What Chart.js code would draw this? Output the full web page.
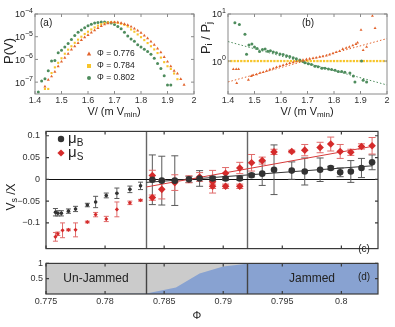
<!DOCTYPE html>
<html>
<head>
<meta charset="utf-8">
<script src="https://cdn.jsdelivr.net/npm/chart.js@4/dist/chart.umd.min.js"></script>
<style>
  html, body { margin: 0; padding: 0; background: #fff; }
  #fig { position: relative; width: 395px; height: 327px; overflow: hidden; background: #fff; }
  #fig canvas { position: absolute; }
</style>
</head>
<body>
<div id="fig">
  <canvas id="cA" width="200" height="125" style="left:0;top:0"></canvas>
  <canvas id="cB" width="199" height="125" style="left:196px;top:0"></canvas>
  <canvas id="cC" width="395" height="140" style="left:0;top:120px"></canvas>
  <canvas id="cD" width="395" height="72" style="left:0;top:255px"></canvas>
</div>
<script>
// ============================================================
// Panels (a)-(d): P(V), ratios, mu_B / mu_S vs phi, jammed fraction
// ============================================================

const FONT = 'Arial, "Liberation Sans", Helvetica, sans-serif';

// ── (a) distributions, log10 P(V) ───────────────────────────
const vGrid = [1.4125, 1.425, 1.4375, 1.45, 1.4625, 1.475, 1.4875, 1.5, 1.5125, 1.525,
  1.5375, 1.55, 1.5625, 1.575, 1.5875, 1.6, 1.6125, 1.625, 1.6375, 1.65,
  1.6625, 1.675, 1.6875, 1.7, 1.7125, 1.725, 1.7375, 1.75, 1.7625, 1.775,
  1.7875, 1.8, 1.8125, 1.825, 1.8375, 1.85, 1.8625, 1.875, 1.8875, 1.9,
  1.9125, 1.925, 1.9375, 1.95, 1.9625];
const logP776 = [null, null, -7.2, -6.9, -6.75, -6.55, -6.3, -6.1, -5.93, -5.75,
  -5.57, -5.42, -5.28, -5.15, -5.03, -4.93, -4.82, -4.72, -4.62, -4.53,
  -4.46, -4.41, -4.37, -4.36, -4.37, -4.40, -4.44, -4.49, -4.56, -4.64,
  -4.73, -4.83, -4.95, -5.07, -5.21, -5.36, -5.52, -5.69, -5.9, -6.1,
  -6.3, -6.5, -6.62, -6.87, -7.12];
const logP784 = [null, null, -7.3, -7.3, -6.6, -6.35, -6.15, -5.95, -5.75, -5.57,
  -5.42, -5.27, -5.13, -5.0, -4.88, -4.78, -4.68, -4.59, -4.51, -4.45,
  -4.40, -4.37, -4.36, -4.37, -4.39, -4.43, -4.48, -4.55, -4.68, -4.78,
  -4.9, -5.02, -5.15, -5.28, -5.42, -5.56, -5.72, -5.92, -6.12, -6.3,
  -6.42, -6.62, -6.87, null, null];
const logP802 = [-7.43, -6.95, -6.85, -6.5, -6.07, -6.05, -5.71, -5.6, -5.45, -5.3,
  -5.12, -4.95, -4.8, -4.7, -4.6, -4.52, -4.45, -4.40, -4.37, -4.35,
  -4.35, -4.37, -4.40, -4.46, -4.55, -4.65, -4.8, -4.97, -5.1, -5.2,
  -5.35, -5.45, -5.55, -5.65, -5.77, -5.95, -6.18, -6.4, -6.72, -7.13,
  -7.13, null, null, null, null];
const vTicks   = [1.4, 1.5, 1.6, 1.7, 1.8, 1.9, 2];
const aDecades = [1e-4, 1e-5, 1e-6, 1e-7];
const aExps    = ['\u22124', '\u22125', '\u22126', '\u22127'];
const phiNames = ['\u03A6 = 0.776', '\u03A6 = 0.784', '\u03A6 = 0.802'];

// ── (b) ratios P_i / P_j ─────────────────────────────────────
const vR776 = [1.420, 1.431, 1.440, 1.433, 1.477, 1.488, 1.495, 1.508, 1.521, 1.533,
  1.546, 1.558, 1.571, 1.583, 1.596, 1.608, 1.621, 1.633, 1.646, 1.658,
  1.671, 1.683, 1.696, 1.708, 1.721, 1.733, 1.746, 1.758, 1.771, 1.783,
  1.796, 1.808, 1.821, 1.833, 1.846, 1.858, 1.871, 1.883, 1.889, 1.902,
  1.910, 1.923, 1.945, 1.955];
const r776 = [0.67, 0.67, 0.67, 0.34, 0.40, 0.48, 0.50, 0.52, 0.56, 0.58,
  0.62, 0.66, 0.70, 0.74, 0.78, 0.82, 0.86, 0.90, 0.94, 0.98,
  1.02, 1.06, 1.09, 1.12, 1.15, 1.18, 1.22, 1.26, 1.30, 1.36,
  1.45, 1.55, 1.62, 1.80, 1.90, 2.00, 2.15, 2.30, 2.45, 4.6,
  1.7, 2.0, 9.1, 5.0];
const vR802 = [1.426, 1.443, 1.464, 1.470, 1.479, 1.490, 1.500, 1.510, 1.519, 1.530,
  1.540, 1.550, 1.560, 1.571, 1.583, 1.596, 1.608, 1.621, 1.633, 1.646,
  1.658, 1.671, 1.683, 1.690, 1.703, 1.715, 1.728, 1.740, 1.754, 1.766,
  1.779, 1.791, 1.804, 1.816, 1.829, 1.841, 1.860, 1.873, 1.879, 1.904,
  1.910, 1.923];
const r802 = [6.5, 6.0, 3.7, 1.39, 2.2, 2.3, 2.0, 1.85, 1.6, 1.75,
  1.8, 1.62, 1.65, 1.55, 1.5, 1.42, 1.38, 1.3, 1.25, 1.18,
  1.12, 1.05, 0.98, 0.92, 0.88, 0.84, 0.78, 0.76, 0.70, 0.70,
  0.68, 0.66, 0.64, 0.60, 0.60, 0.58, 0.56, 0.48, 0.36, 1.0,
  0.39, 0.36];
const vR784 = [1.4, 1.4125, 1.425, 1.4375, 1.45, 1.4625, 1.475, 1.4875, 1.5, 1.5125,
  1.525, 1.5375, 1.55, 1.5625, 1.575, 1.5875, 1.6, 1.6125, 1.625, 1.6375,
  1.65, 1.6625, 1.675, 1.6875, 1.7, 1.7125, 1.725, 1.7375, 1.75, 1.7625,
  1.775, 1.7875, 1.8, 1.8125, 1.825, 1.8375, 1.85, 1.8625, 1.875, 1.8875,
  1.9, 1.9125, 1.925, 1.9375, 1.95, 1.9625, 1.975, 1.9875, 2.0];
const r784 = [1, 1, 1, 1, 1, 1, 1, 1, 1, 1,
  1, 1, 1, 1, 1, 1, 1, 1, 1, 1,
  1, 1, 1, 1, 1, 1, 1, 1, 1, 1,
  1, 1, 1, 1, 1, 1, 1, 1, 1, 1,
  1, 1, 1, 1, 1, 1, 1, 1, 1];
const vFit   = [1.4, 2.0];
const fit776 = [0.36, 3.0];
const fit802 = [2.6, 0.31];
const bDecades = [10, 1];
const bExps    = ['1', '0'];

// ── (c) mu_B and mu_S vs phi ────────────────────────────────
const phiB = [0.7758, 0.7760, 0.7763, 0.7769, 0.7775, 0.7785, 0.7792, 0.7801, 0.7810, 0.7821,
  0.7830, 0.7840, 0.7848, 0.7859, 0.7871, 0.7880, 0.7891, 0.7902, 0.7914, 0.7924,
  0.7933, 0.7943, 0.7958, 0.7969, 0.7982, 0.7991, 0.7999, 0.8008, 0.8017, 0.8026];
const muB = [-0.0755, -0.078, -0.078, -0.073, -0.068, -0.059, -0.052, -0.037, -0.032, -0.023,
  -0.015, -0.001, -0.003, -0.003, 0.000, 0.002, 0.002, 0.002, 0.002, 0.0095,
  0.013, 0.022, 0.020, 0.018, 0.022, 0.026, 0.016, 0.018, 0.026, 0.039];
const errB = [0.0085, 0.006, 0.006, 0.005, 0.006, 0.004, 0.013, 0.0055, 0.012, 0.0075,
  0.0085, 0.057, 0.056, 0.057, 0.007, 0.018, 0.005, 0.004, 0.004, 0.004,
  0.027, 0.057, 0.020, 0.031, 0.027, 0.004, 0.010, 0.025, 0.022, 0.017];

const phiS = [0.7758, 0.7760, 0.7764, 0.7769, 0.7775, 0.7785, 0.7792, 0.7801, 0.7810, 0.7821,
  0.7830, 0.7840, 0.7840, 0.7848, 0.7859, 0.7871, 0.7880, 0.7891, 0.7891, 0.7902,
  0.7902, 0.7914, 0.7914, 0.7924, 0.7933, 0.7943, 0.7958, 0.7969, 0.7982, 0.7991,
  0.7999, 0.8008, 0.8017, 0.8026];
const muS = [-0.132, -0.125, -0.117, -0.116, -0.116, -0.098, -0.081, -0.091, -0.069, -0.054,
  -0.048, 0.0088, -0.042, -0.023, -0.0075, 0.000, 0.0054, -0.0055, -0.016, 0.014,
  -0.016, 0.026, -0.016, 0.038, 0.043, 0.063, 0.064, 0.067, 0.073, 0.081,
  0.064, 0.062, 0.0755, 0.077];
const errS = [0.010, 0.004, 0.017, 0.002, 0.016, 0.002, 0.005, 0.006, 0.017, 0.004,
  0.002, 0.012, 0.006, 0.022, 0.018, 0.008, 0.010, 0.026, 0.005, 0.013,
  0.005, 0.013, 0.005, 0.019, 0.008, 0.006, 0.003, 0.013, 0.012, 0.016,
  0.016, 0.007, 0.006, 0.019];

const phiFit = [0.7835, 0.8026];
const fitB   = [-0.007, 0.031];
const fitS   = [-0.0175, 0.0755];
const cTicks = [-0.1, -0.05, 0, 0.05, 0.1];

// ── (d) jammed fraction ─────────────────────────────────────
const jamPhi  = [0.775, 0.7835, 0.786, 0.788, 0.790, 0.792, 0.8031];
const jamFrac = [0, 0.02, 0.21, 0.67, 0.90, 0.99, 1.0];
const dTicks  = [0.5, 1];
const phiTicks  = [0.775, 0.78, 0.785, 0.79, 0.795, 0.8];
const phiBounds = [0.7835, 0.792];

// ── helpers ─────────────────────────────────────────────────
const pts  = (xs, ys) => xs.map((x, i) => ({ x, y: ys[i] }));
const pow10 = arr => arr.map(e => e === null ? null : Math.pow(10, e));
const setTicks = list => s => { s.ticks = list.map(v => ({ value: v })); };
const minus = v => v === 0 ? '0' : (v < 0 ? '\u2212' : '') + String(Math.abs(v));

// text with sub/superscripts: parts = [{text, size, dy}]
function drawRich(ctx, x, y, parts, align, rot, color) {
  ctx.save();
  ctx.translate(x, y);
  if (rot) ctx.rotate(rot);
  ctx.fillStyle = color || '#222';
  ctx.textBaseline = 'middle';
  ctx.textAlign = 'left';
  let w = 0;
  parts.forEach(p => { ctx.font = p.size + 'px ' + FONT; p.w = ctx.measureText(p.text).width; w += p.w; });
  let cx = align === 'center' ? -w / 2 : align === 'right' ? -w : 0;
  parts.forEach(p => {
    ctx.font = p.size + 'px ' + FONT;
    ctx.fillText(p.text, cx, p.dy || 0);
    cx += p.w;
  });
  ctx.restore();
}

function marker(ctx, style, x, y, r, color) {
  ctx.save();
  ctx.fillStyle = color;
  ctx.beginPath();
  if (style === 'circle') ctx.arc(x, y, r, 0, Math.PI * 2);
  else if (style === 'rect') ctx.rect(x - r, y - r, 2 * r, 2 * r);
  else if (style === 'triangle') { ctx.moveTo(x, y - r * 1.2); ctx.lineTo(x + r * 1.1, y + r * 0.8); ctx.lineTo(x - r * 1.1, y + r * 0.8); ctx.closePath(); }
  else if (style === 'rectRot') { ctx.moveTo(x, y - r); ctx.lineTo(x + r, y); ctx.lineTo(x, y + r); ctx.lineTo(x - r, y); ctx.closePath(); }
  ctx.fill();
  ctx.restore();
}

// box round the chart area with small inward ticks
const frame = {
  id: 'frame',
  afterDatasetsDraw(chart, args, o) {
    const { ctx, chartArea: a, scales: { x, y } } = chart;
    const t = o.tick || 3;
    ctx.save();
    ctx.strokeStyle = o.color;
    ctx.lineWidth = o.width;
    ctx.beginPath();
    x.ticks.forEach(tk => {
      const px = x.getPixelForValue(tk.value);
      ctx.moveTo(px, a.bottom); ctx.lineTo(px, a.bottom - t);
      ctx.moveTo(px, a.top);    ctx.lineTo(px, a.top + t);
    });
    y.ticks.forEach(tk => {
      const py = y.getPixelForValue(tk.value);
      ctx.moveTo(a.left, py);  ctx.lineTo(a.left + t, py);
      ctx.moveTo(a.right, py); ctx.lineTo(a.right - t, py);
    });
    ctx.stroke();
    ctx.strokeRect(a.left, a.top, a.right - a.left, a.bottom - a.top);
    ctx.restore();
  }
};

const errorBars = {
  id: 'errorBars',
  beforeDatasetsDraw(chart) {
    const { ctx, scales: { x, y } } = chart;
    chart.data.datasets.forEach(ds => {
      if (!ds.errors) return;
      ctx.save();
      ctx.strokeStyle = ds.errorColor;
      ctx.lineWidth = 1;
      ctx.beginPath();
      ds.data.forEach((p, i) => {
        const e = ds.errors[i];
        const px = x.getPixelForValue(p.x);
        const y1 = y.getPixelForValue(p.y - e);
        const y2 = y.getPixelForValue(p.y + e);
        const cap = p.x < phiBounds[0] ? 2.5 : 3.5;
        ctx.moveTo(px, y1); ctx.lineTo(px, y2);
        ctx.moveTo(px - cap, y1); ctx.lineTo(px + cap, y1);
        ctx.moveTo(px - cap, y2); ctx.lineTo(px + cap, y2);
      });
      ctx.stroke();
      ctx.restore();
    });
  }
};

function boundaryLines(chart, color, width) {
  const { ctx, chartArea: a, scales: { x } } = chart;
  ctx.save();
  ctx.strokeStyle = color;
  ctx.lineWidth = width;
  ctx.beginPath();
  phiBounds.forEach(v => {
    const px = Math.round(x.getPixelForValue(v)) + 0.5;
    ctx.moveTo(px, a.top); ctx.lineTo(px, a.bottom);
  });
  ctx.stroke();
  ctx.restore();
}

Chart.defaults.font.family = FONT;
Chart.defaults.color = '#333';
Chart.defaults.animation = false;
Chart.defaults.plugins.legend.display = false;
Chart.defaults.plugins.tooltip.enabled = false;

const noGrid = { display: false, drawTicks: false };
const noBorder = { display: false };

const COL_776 = '#e2632c';
const COL_784 = '#f7c52b';
const COL_802 = '#4e8c5d';

// ── Panel (a) ────────────────────────────────────────────────
new Chart(document.getElementById('cA'), {
  type: 'scatter',
  data: {
    datasets: [
      { data: pts(vGrid, pow10(logP776)), pointStyle: 'triangle', pointRadius: 1.8, backgroundColor: COL_776, borderWidth: 0 },
      { data: pts(vGrid, pow10(logP784)), pointStyle: 'rect', pointRadius: 1.5, backgroundColor: COL_784, borderWidth: 0 },
      { data: pts(vGrid, pow10(logP802)), pointStyle: 'circle', pointRadius: 1.5, backgroundColor: COL_802, borderWidth: 0 }
    ]
  },
  options: {
    responsive: false,
    layout: { padding: { top: 14, right: 6, left: 0, bottom: 0 } },
    scales: {
      x: {
        type: 'linear', min: 1.4, max: 2,
        afterBuildTicks: setTicks(vTicks), afterFit: s => { s.height = 31; },
        grid: noGrid, border: noBorder,
        ticks: { font: { size: 9 }, padding: 1, autoSkip: false, maxRotation: 0, callback: v => String(v) }
      },
      y: {
        type: 'logarithmic', min: Math.pow(10, -7.48), max: 1e-4,
        afterBuildTicks: setTicks(aDecades), afterFit: s => { s.width = 35; },
        grid: noGrid, border: noBorder, ticks: { display: false }
      }
    },
    plugins: { frame: { color: '#8a8a8a', width: 1 } }
  },
  plugins: [frame, {
    id: 'labelsA',
    afterDraw(chart) {
      const { ctx, scales: { y } } = chart;
      aDecades.forEach((d, i) => {
        drawRich(ctx, 33, y.getPixelForValue(d) + 1,
          [{ text: '10', size: 9 }, { text: aExps[i], size: 7, dy: -4 }], 'right');
      });
      drawRich(ctx, 9, 51, [{ text: 'P(V)', size: 13 }], 'center', -Math.PI / 2);
      drawRich(ctx, 114, 112, [{ text: 'V/ (m V', size: 11 }, { text: 'min', size: 8, dy: 3 }, { text: ')', size: 11 }], 'center');
      drawRich(ctx, 40, 23, [{ text: '(a)', size: 10 }], 'left');
      const styles = ['triangle', 'rect', 'circle'];
      const cols = [COL_776, COL_784, COL_802];
      [54, 66, 78].forEach((py, i) => {
        marker(ctx, styles[i], 89, py, 2, cols[i]);
        drawRich(ctx, 97, py, [{ text: phiNames[i], size: 8.5 }], 'left');
      });
    }
  }]
});

// ── Panel (b) ────────────────────────────────────────────────
new Chart(document.getElementById('cB'), {
  type: 'scatter',
  data: {
    datasets: [
      { type: 'line', data: pts(vFit, fit776), borderColor: COL_776, borderWidth: 1, borderDash: [1.5, 2], pointRadius: 0 },
      { type: 'line', data: pts(vFit, fit802), borderColor: COL_802, borderWidth: 1, borderDash: [1.5, 2], pointRadius: 0 },
      { data: pts(vR776, r776), pointStyle: 'triangle', pointRadius: 1.7, backgroundColor: COL_776, borderWidth: 0 },
      { data: pts(vR802, r802), pointStyle: 'circle', pointRadius: 1.5, backgroundColor: COL_802, borderWidth: 0 },
      { data: pts(vR784, r784), pointStyle: 'rect', pointRadius: 1.6, backgroundColor: COL_784, borderWidth: 0 }
    ]
  },
  options: {
    responsive: false,
    layout: { padding: { top: 14, right: 8, left: 0, bottom: 0 } },
    scales: {
      x: {
        type: 'linear', min: 1.4, max: 2,
        afterBuildTicks: setTicks(vTicks), afterFit: s => { s.height = 31; },
        grid: noGrid, border: noBorder,
        ticks: { font: { size: 9 }, padding: 1, autoSkip: false, maxRotation: 0, callback: v => String(v) }
      },
      y: {
        type: 'logarithmic', min: Math.pow(10, -0.70), max: 10,
        afterBuildTicks: setTicks(bDecades), afterFit: s => { s.width = 32; },
        grid: noGrid, border: noBorder, ticks: { display: false }
      }
    },
    plugins: { frame: { color: '#8a8a8a', width: 1 } }
  },
  plugins: [frame, {
    id: 'labelsB',
    afterDraw(chart) {
      const { ctx, scales: { y } } = chart;
      bDecades.forEach((d, i) => {
        drawRich(ctx, 30, y.getPixelForValue(d) + 1,
          [{ text: '10', size: 9 }, { text: bExps[i], size: 7, dy: -4 }], 'right');
      });
      drawRich(ctx, 10, 38, [{ text: 'P', size: 13 }, { text: 'i', size: 9, dy: 4 }, { text: ' / P', size: 13 }, { text: 'j', size: 9, dy: 4 }], 'center', -Math.PI / 2);
      drawRich(ctx, 111, 112, [{ text: 'V/ (m V', size: 11 }, { text: 'min', size: 8, dy: 3 }, { text: ')', size: 11 }], 'center');
      drawRich(ctx, 112, 23, [{ text: '(b)', size: 10 }], 'center');
    }
  }]
});

// ── Panel (c) ────────────────────────────────────────────────
const bigOrSmall = big => ctx => (ctx.raw && ctx.raw.x < phiBounds[0]) ? big * 0.55 : big;

new Chart(document.getElementById('cC'), {
  type: 'scatter',
  data: {
    datasets: [
      { data: pts(phiB, muB), errors: errB, errorColor: '#5a5a5a', pointStyle: 'circle',
        pointRadius: bigOrSmall(3.3), backgroundColor: '#333', borderWidth: 0 },
      { data: pts(phiS, muS), errors: errS, errorColor: '#e06a6a', pointStyle: 'rectRot',
        pointRadius: bigOrSmall(3.8), backgroundColor: '#d52b2b', borderWidth: 0 },
      { type: 'line', data: pts(phiFit, fitS), borderColor: '#d63a3a', borderWidth: 1, pointRadius: 0 },
      { type: 'line', data: pts(phiFit, fitB), borderColor: '#333', borderWidth: 1, pointRadius: 0 }
    ]
  },
  options: {
    responsive: false,
    layout: { padding: { top: 8, right: 17, left: 0, bottom: 0 } },
    scales: {
      x: {
        type: 'linear', min: 0.775, max: 0.8031,
        afterBuildTicks: setTicks(phiTicks), afterFit: s => { s.height = 0; },
        grid: noGrid, border: noBorder, ticks: { display: false }
      },
      y: {
        type: 'linear', min: -0.159, max: 0.11,
        afterBuildTicks: setTicks(cTicks), afterFit: s => { s.width = 46; },
        grid: noGrid, border: noBorder,
        ticks: { font: { size: 9 }, padding: 6, callback: v => minus(v) }
      }
    },
    plugins: { frame: { color: '#3a3a3a', width: 1.2 } }
  },
  plugins: [{
    id: 'backC',
    beforeDatasetsDraw(chart) {
      const { ctx, chartArea: a, scales: { y } } = chart;
      boundaryLines(chart, '#666', 1.4);
      const py = Math.round(y.getPixelForValue(0)) + 0.5;
      ctx.save();
      ctx.strokeStyle = '#111';
      ctx.lineWidth = 1.2;
      ctx.beginPath(); ctx.moveTo(a.left, py); ctx.lineTo(a.right, py); ctx.stroke();
      ctx.restore();
    }
  }, errorBars, frame, {
    id: 'labelsC',
    afterDraw(chart) {
      const { ctx } = chart;
      marker(ctx, 'circle', 61, 19, 3.2, '#333');
      drawRich(ctx, 68, 19, [{ text: '\u03BC', size: 15 }, { text: 'B', size: 10, dy: 4 }], 'left');
      marker(ctx, 'rectRot', 61, 33, 3.6, '#d52b2b');
      drawRich(ctx, 68, 33, [{ text: '\u03BC', size: 15 }, { text: 'S', size: 10, dy: 4 }], 'left');
      drawRich(ctx, 12, 77, [{ text: 'V', size: 12 }, { text: 's', size: 9, dy: 3 }, { text: ' /X', size: 12 }], 'center', -Math.PI / 2);
      drawRich(ctx, 364, 129, [{ text: '(c)', size: 10 }], 'center');
    }
  }]
});

// ── Panel (d) ────────────────────────────────────────────────
new Chart(document.getElementById('cD'), {
  type: 'scatter',
  data: {
    datasets: [
      { type: 'line', data: pts(jamPhi, jamFrac), borderWidth: 0, pointRadius: 0,
        fill: 'origin', backgroundColor: '#88a2d1', borderColor: 'rgba(0,0,0,0)' }
    ]
  },
  options: {
    responsive: false,
    layout: { padding: { top: 5, right: 17, left: 0, bottom: 0 } },
    scales: {
      x: {
        type: 'linear', min: 0.775, max: 0.8031,
        afterBuildTicks: setTicks(phiTicks), afterFit: s => { s.height = 33; },
        grid: noGrid, border: noBorder,
        ticks: { font: { size: 9 }, padding: 2, autoSkip: false, maxRotation: 0, callback: v => String(v) }
      },
      y: {
        type: 'linear', min: 0, max: 1,
        afterBuildTicks: setTicks(dTicks), afterFit: s => { s.width = 46; },
        grid: noGrid, border: noBorder,
        ticks: { font: { size: 9 }, padding: 3, callback: v => String(v) }
      }
    },
    plugins: { frame: { color: '#3a3a3a', width: 1.2 } }
  },
  plugins: [{
    id: 'backD',
    beforeDatasetsDraw(chart) {
      const { ctx, chartArea: a } = chart;
      ctx.save();
      ctx.fillStyle = '#cbcbcb';
      ctx.fillRect(a.left, a.top, a.right - a.left, a.bottom - a.top);
      ctx.restore();
    },
    afterDatasetsDraw(chart) {
      boundaryLines(chart, '#444', 1.4);
    }
  }, frame, {
    id: 'labelsD',
    afterDraw(chart) {
      const { ctx } = chart;
      drawRich(ctx, 96, 24, [{ text: 'Un-Jammed', size: 12 }], 'center');
      drawRich(ctx, 312, 24, [{ text: 'Jammed', size: 12 }], 'center');
      drawRich(ctx, 364, 22, [{ text: '(d)', size: 10 }], 'center');
      drawRich(ctx, 197, 61, [{ text: '\u03A6', size: 11 }], 'center');
    }
  }]
});
</script>
</body>
</html>
